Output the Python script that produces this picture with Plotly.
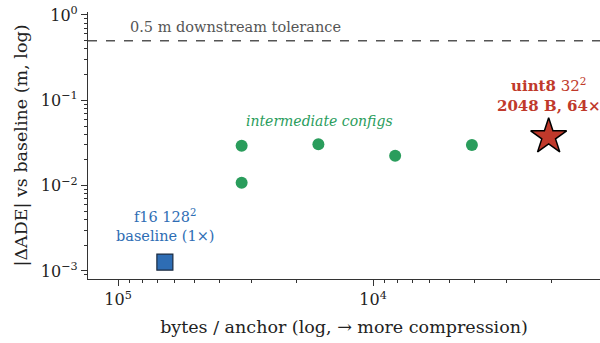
import math
import plotly.graph_objects as go

base_bytes = [65536]
base_err = [0.00127]
mid_bytes = [32768, 32768, 16384, 8192, 4096]
mid_err = [0.0293, 0.0108, 0.0305, 0.0224, 0.0300]
best_bytes = [2048]
best_err = [0.0375]
tolerance = 0.5

L = math.log10
FONT = "DejaVu Serif"
fig = go.Figure()
fig.add_shape(type="line", xref="paper", x0=0, x1=1, yref="y", y0=tolerance, y1=tolerance,
              line=dict(color="#555555", width=1.5, dash="dash"))
fig.add_trace(go.Scatter(x=mid_bytes, y=mid_err, mode="markers",
                         marker=dict(color="#2a9d5c", size=12), showlegend=False))
fig.add_trace(go.Scatter(x=base_bytes, y=base_err, mode="markers",
                         marker=dict(symbol="square", color="#2e6db4", size=16,
                                     line=dict(color="#1a2a40", width=1.2)), showlegend=False))
fig.add_trace(go.Scatter(x=best_bytes, y=best_err, mode="markers",
                         marker=dict(symbol="star", color="#c0392b", size=27,
                                     line=dict(color="black", width=1.5)), showlegend=False))

fig.add_annotation(x=0.0, y=L(tolerance), xref="paper", yref="y", xanchor="left", yanchor="bottom",
                   xshift=40, yshift=4, text="0.5 m downstream tolerance", showarrow=False,
                   font=dict(family=FONT, size=14.5, color="#555555"))
fig.add_annotation(x=4.21, y=L(mid_err[2]), xref="x", yref="y", text="<i>intermediate configs</i>",
                   showarrow=False, yshift=23, font=dict(family=FONT, size=14, color="#2a9d5c"))
fig.add_annotation(x=L(base_bytes[0]), y=L(base_err[0]), xref="x", yref="y",
                   text="f16 128<sup>2</sup><br>baseline (1×)",
                   showarrow=False, yshift=16, yanchor="bottom",
                   font=dict(family=FONT, size=14.5, color="#2e6db4"))
fig.add_annotation(x=L(best_bytes[0]), y=L(best_err[0]), xref="x", yref="y",
                   text="<b>uint8</b> 32<sup>2</sup><br><b>2048 B, 64×</b>",
                   showarrow=False, yshift=20, yanchor="bottom",
                   font=dict(family=FONT, size=15, color="#c0392b"))

def minor_vals(lo, hi):
    out = []
    for d in range(lo, hi):
        for k in range(2, 10):
            out.append(k * 10.0 ** d)
    return out

axis_common = dict(type="log", showgrid=False, zeroline=False, showline=True, linecolor="#333333",
                   linewidth=1.2, ticks="outside", ticklen=6, tickcolor="#333333",
                   tickfont=dict(family=FONT, size=16, color="#222222"))
fig.update_xaxes(**axis_common, range=[5.118, 3.11], tickvals=[1e5, 1e4],
                 ticktext=["10<sup>5</sup>", "10<sup>4</sup>"],
                 minor=dict(ticks="outside", ticklen=3, tickcolor="#333333", showgrid=False,
                            tickvals=minor_vals(3, 6)),
                 title=dict(text="bytes / anchor (log, → more compression)",
                            font=dict(family=FONT, size=17.5, color="#222222"), standoff=12))
fig.update_yaxes(**axis_common, range=[-3.094, 0.035], tickvals=[1e-3, 1e-2, 1e-1, 1],
                 ticktext=["10<sup>−3</sup>", "10<sup>−2</sup>", "10<sup>−1</sup>", "10<sup>0</sup>"],
                 minor=dict(ticks="outside", ticklen=3, tickcolor="#333333", showgrid=False,
                            tickvals=minor_vals(-4, 0)),
                 title=dict(text="|ΔADE| vs baseline (m, log)",
                            font=dict(family=FONT, size=17.5, color="#222222"), standoff=8))
fig.update_layout(width=600, height=343, margin=dict(l=88, r=0, t=12, b=64),
                  plot_bgcolor="white", paper_bgcolor="white", font=dict(family=FONT))
fig.write_html("out.html")
